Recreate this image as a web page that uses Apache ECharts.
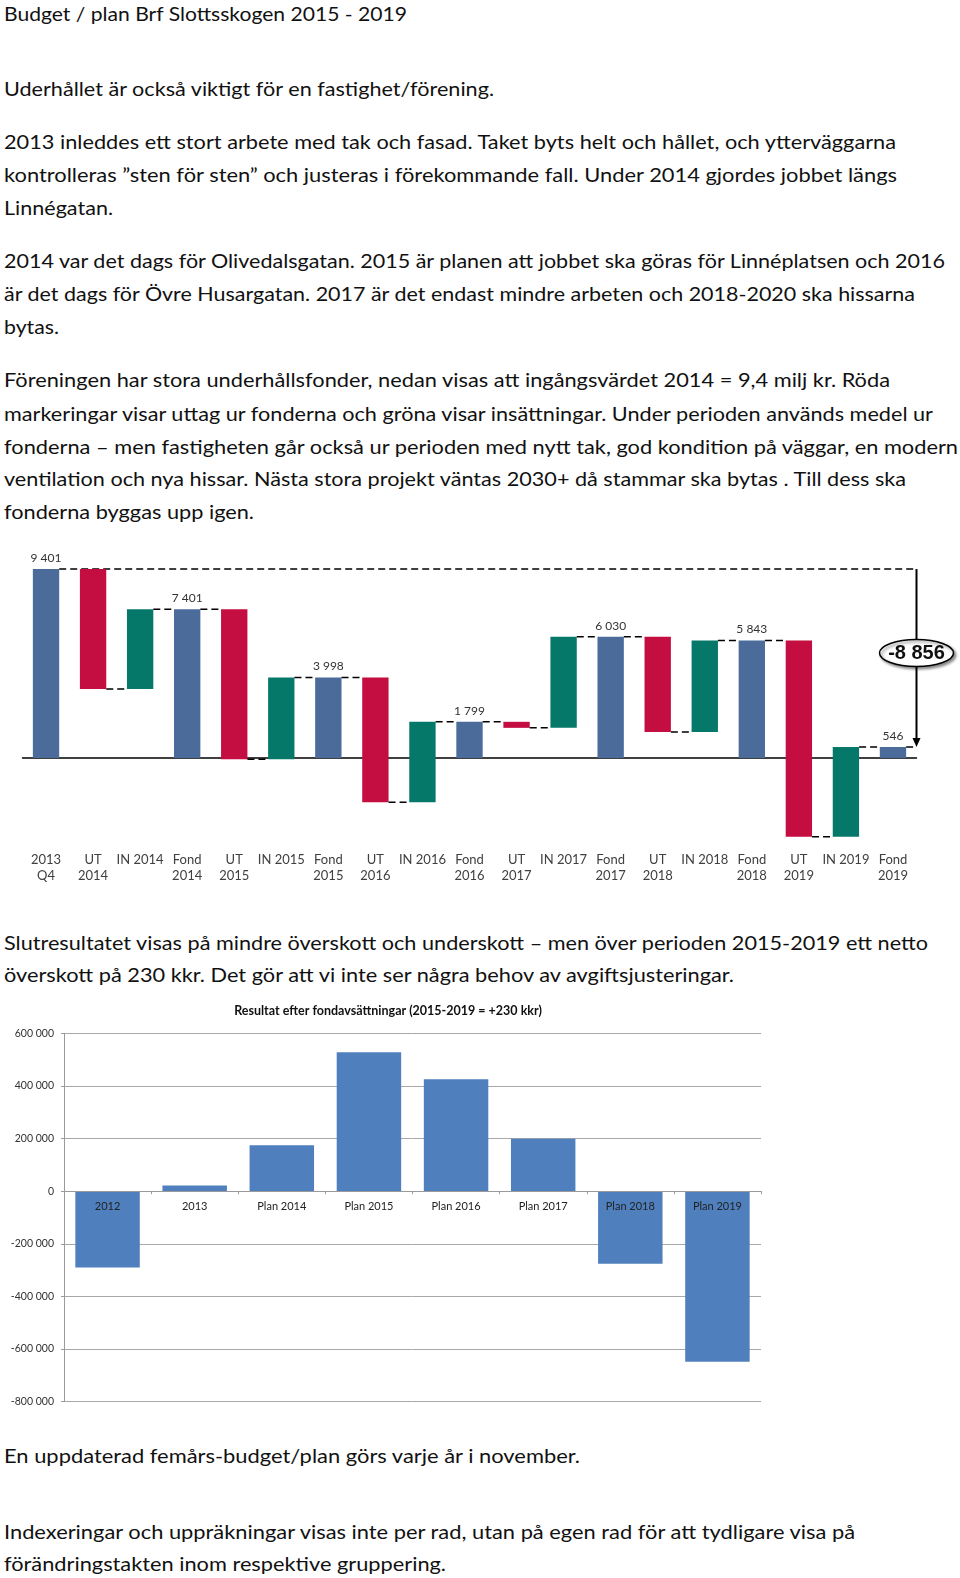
<!DOCTYPE html>
<html>
<head>
<meta charset="utf-8">
<script src="https://cdn.jsdelivr.net/npm/echarts@6/dist/echarts.min.js"></script>
<style>
  html, body { margin: 0; padding: 0; background: #fff; }
  #page { position: relative; width: 960px; height: 1578px; overflow: hidden; background: #fff; }
  .ln { position: absolute; left: 4px; white-space: nowrap; font-family: Lato, "Open Sans", sans-serif;
        font-size: 20px; line-height: 24px; height: 24px; color: #111; transform-origin: 0 50%; }
  #wf { position: absolute; left: 0; top: 540px; width: 960px; height: 350px; }
  #res { position: absolute; left: 0; top: 990px; width: 960px; height: 420px; }
</style>
</head>
<body>
<div id="page">
  <div id="wf"></div>
  <div id="res"></div>
</div>
<script>
// ---------------- text (line, vertical centre, right edge) ----------------
const textLines = [
  ['Budget / plan Brf Slottsskogen 2015 - 2019', 13, 407],
  ['Uderhållet är också viktigt för en fastighet/förening.', 87.5, 494],
  ['2013 inleddes ett stort arbete med tak och fasad. Taket byts helt och hållet, och ytterväggarna', 141, 896],
  ['kontrolleras ”sten för sten” och justeras i förekommande fall. Under 2014 gjordes jobbet längs', 174, 897],
  ['Linnégatan.', 207, 113],
  ['2014 var det dags för Olivedalsgatan. 2015 är planen att jobbet ska göras för Linnéplatsen och 2016', 259.6, 945],
  ['är det dags för Övre Husargatan. 2017 är det endast mindre arbeten och 2018-2020 ska hissarna', 292.8, 915],
  ['bytas.', 326, 59],
  ['Föreningen har stora underhållsfonder, nedan visas att ingångsvärdet 2014 = 9,4 milj kr. Röda', 379.4, 890],
  ['markeringar visar uttag ur fonderna och gröna visar insättningar. Under perioden används medel ur', 412.6, 933],
  ['fonderna – men fastigheten går också ur perioden med nytt tak, god kondition på väggar, en modern', 445.8, 958],
  ['ventilation och nya hissar. Nästa stora projekt väntas 2030+ då stammar ska bytas . Till dess ska', 478, 906],
  ['fonderna byggas upp igen.', 511, 254],
  ['Slutresultatet visas på mindre överskott och underskott – men över perioden 2015-2019 ett netto', 942, 928],
  ['överskott på 230 kkr. Det gör att vi inte ser några behov av avgiftsjusteringar.', 974, 734],
  ['En uppdaterad femårs-budget/plan görs varje år i november.', 1455, 580],
  ['Indexeringar och uppräkningar visas inte per rad, utan på egen rad för att tydligare visa på', 1530.6, 855],
  ['förändringstakten inom respektive gruppering.', 1562.8, 446]
];
const page = document.getElementById('page');
textLines.forEach(([t, yc, right]) => {
  const d = document.createElement('div');
  d.className = 'ln';
  d.textContent = t;
  d.style.top = (yc - 12) + 'px';
  page.appendChild(d);
  const w = d.getBoundingClientRect().width;
  d.style.transform = 'scaleX(' + ((right - 4) / w) + ')';
});

// ---------------- waterfall data (thousand kr) ----------------
const wfCategories = ['2013\nQ4','UT\n2014','IN 2014','Fond\n2014','UT\n2015','IN 2015','Fond\n2015',
  'UT\n2016','IN 2016','Fond\n2016','UT\n2017','IN 2017','Fond\n2017','UT\n2018','IN 2018','Fond\n2018',
  'UT\n2019','IN 2019','Fond\n2019'];
const fundBalance = [9401, 7401, 3998, 1799, 6030, 5843, 546];
const withdrawals = [-5968, -7466, -6202, -300, -4736, -9758];
const deposits    = [3968, 4063, 4003, 4531, 4549, 4461];
const netChangeLabel = '-8 856';

const wfColors = ['#4b6b9b', '#c40d40', '#05786a'];
const fmt = v => String(Math.round(v)).replace(/\B(?=(\d{3})+(?!\d))/g, ' ');

// items: [index, low, high, type(0 fund,1 out,2 in), levelAfter, value]
const wfItems = [];
let lvl = fundBalance[0];
wfItems.push([0, 0, fundBalance[0], 0, lvl, fundBalance[0]]);
for (let k = 0; k < withdrawals.length; k++) {
  const base = wfItems.length;
  const a = lvl, b = lvl + withdrawals[k];
  wfItems.push([base, Math.min(a, b), Math.max(a, b), 1, b, withdrawals[k]]);
  lvl = b;
  const c = lvl + deposits[k];
  wfItems.push([base + 1, Math.min(lvl, c), Math.max(lvl, c), 2, c, deposits[k]]);
  lvl = c;
  wfItems.push([base + 2, 0, fundBalance[k + 1], 0, fundBalance[k + 1], fundBalance[k + 1]]);
  lvl = fundBalance[k + 1];
}
const nItems = wfItems.length;

const wf = echarts.init(document.getElementById('wf'));
wf.setOption({
  animation: false,
  grid: { left: 22.5, right: 43.5, top: 17, bottom: 43.6, outerBoundsMode: 'none', containLabel: false },
  xAxis: [
    { type: 'category', data: wfCategories, position: 'bottom',
      axisLine: { show: false, onZero: false }, axisTick: { show: false },
      axisLabel: { interval: 0, margin: 5, fontSize: 13, lineHeight: 16, color: '#404040', fontFamily: 'Lato' } },
    { type: 'category', data: wfCategories, position: 'bottom',
      axisLine: { show: true, onZero: true, lineStyle: { color: '#000', width: 1.5 } },
      axisTick: { show: false }, axisLabel: { show: false } }
  ],
  yAxis: { type: 'value', min: -4400, max: 10000, show: false, splitLine: { show: false } },
  series: [{
    type: 'custom',
    xAxisIndex: 0,
    data: wfItems,
    encode: { x: 0, y: [1, 2] },
    renderItem: function (params, api) {
      const i = api.value(0), low = api.value(1), high = api.value(2);
      const type = api.value(3), end = api.value(4), val = api.value(5);
      const band = api.size([1, 0])[0];
      const w = band * 0.56;
      const pl = api.coord([i, low]), ph = api.coord([i, high]);
      const x = pl[0] - w / 2;
      const ch = [];
      ch.push({ type: 'rect', shape: { x: x, y: ph[1], width: w, height: pl[1] - ph[1] },
        style: { fill: wfColors[type] } });
      if (type === 0) {
        ch.push({ type: 'text', x: pl[0], y: ph[1] - 5,
          style: { text: fmt(val), fontSize: 12, fill: '#333', fontFamily: 'Lato',
                   align: 'center', verticalAlign: 'bottom' } });
      }
      const yEnd = api.coord([i, end])[1];
      const rightEdge = api.coord([nItems - 1, 0])[0] + band / 2;
      const dash = { stroke: '#000', lineWidth: 1.5, lineDash: [7, 4] };
      if (i === 0 || i === nItems - 1) {
        ch.push({ type: 'line', shape: { x1: x + w, y1: yEnd, x2: rightEdge, y2: yEnd }, style: dash });
      } else {
        const nx = api.coord([i + 1, 0])[0] - w / 2;
        ch.push({ type: 'line', shape: { x1: x + w, y1: yEnd, x2: nx, y2: yEnd }, style: dash });
      }
      if (i === nItems - 1) {
        const yTop = api.coord([i, fundBalance[0]])[1];
        const yBot = api.coord([i, fundBalance[fundBalance.length - 1]])[1];
        ch.push({ type: 'line', shape: { x1: rightEdge, y1: yTop, x2: rightEdge, y2: yBot - 6 },
          style: { stroke: '#000', lineWidth: 2 } });
        ch.push({ type: 'polygon', shape: { points: [[rightEdge - 4, yBot - 9], [rightEdge + 4, yBot - 9], [rightEdge, yBot]] },
          style: { fill: '#000' } });
        const cy = (yTop + yBot) / 2 - 5;
        ch.push({ type: 'ellipse', shape: { cx: rightEdge, cy: cy, rx: 37, ry: 13.5 },
          style: { fill: '#fff', stroke: '#000', lineWidth: 1.5,
                   shadowBlur: 3, shadowOffsetX: 2, shadowOffsetY: 2, shadowColor: 'rgba(0,0,0,0.45)' } });
        ch.push({ type: 'text', x: rightEdge, y: cy,
          style: { text: netChangeLabel, fontSize: 20, fontWeight: 'bold',
                   fontFamily: '"Liberation Sans Narrow", "Liberation Sans", sans-serif',
                   fill: '#111', align: 'center', verticalAlign: 'middle' } });
      }
      return { type: 'group', children: ch };
    }
  }]
});

// ---------------- result bar chart ----------------
const resCategories = ['2012', '2013', 'Plan 2014', 'Plan 2015', 'Plan 2016', 'Plan 2017', 'Plan 2018', 'Plan 2019'];
const resValues = [-290000, 22000, 175000, 528000, 425000, 199000, -276000, -648000];
const resTitle = 'Resultat efter fondavsättningar (2015-2019 = +230 kkr)';

const resGridBottom = 8.3;
const res = echarts.init(document.getElementById('res'));
res.setOption({
  animation: false,
  grid: { left: 64, right: 199, top: 43.3, bottom: resGridBottom, outerBoundsMode: 'none', containLabel: false },
  graphic: [{ type: 'text', x: 388, y: 21,
    style: { text: resTitle, fontSize: 12.5, fontWeight: 'bold', fontFamily: 'Lato', fill: '#111',
             align: 'center', verticalAlign: 'middle' } }],
  xAxis: {
    type: 'category', data: resCategories, z: 10,
    axisLine: { onZero: false, lineStyle: { color: '#9a9a9a', width: 1 } },
    axisTick: { show: true, length: 3, lineStyle: { color: '#9a9a9a' } },
    axisLabel: { interval: 0, fontSize: 11, color: '#222', margin: 10, fontFamily: 'Lato' }
  },
  yAxis: {
    type: 'value', min: -800000, max: 600000, interval: 200000,
    axisLine: { show: true, lineStyle: { color: '#9a9a9a' } },
    axisTick: { show: true, length: 3, lineStyle: { color: '#9a9a9a' } },
    splitLine: { lineStyle: { color: '#a8a8a8', width: 1 } },
    axisLabel: { fontSize: 10.5, color: '#333', margin: 10, fontFamily: 'Lato', formatter: v => (v < 0 ? '-' : '') + fmt(Math.abs(v)) }
  },
  series: [{
    type: 'bar', data: resValues, barCategoryGap: '26%',
    itemStyle: { color: '#4f80bd' }
  }]
});
// move the category axis (line, ticks, labels) up to the zero level
const zeroY = res.convertToPixel({ yAxisIndex: 0 }, 0);
const bottomY = res.getHeight() - resGridBottom;
res.setOption({ xAxis: { offset: zeroY - bottomY } });
</script>
</body>
</html>
